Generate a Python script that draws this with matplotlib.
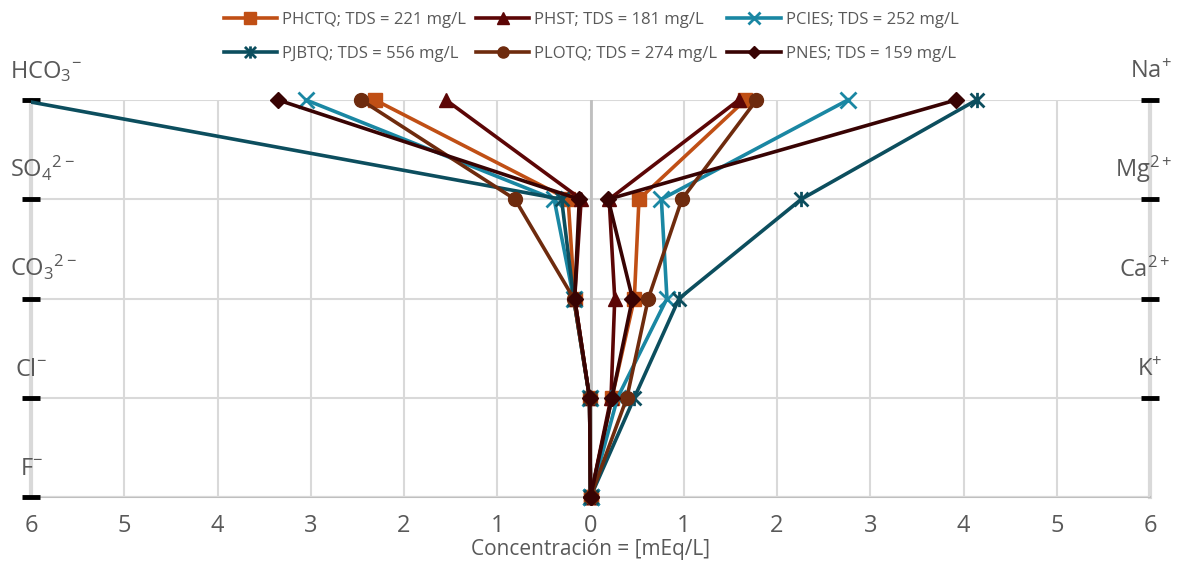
import numpy as np
import matplotlib as mpl
mpl.use('Agg')
import matplotlib.pyplot as plt
from matplotlib.path import Path

plt.rcParams['font.family'] = ['Open Sans', 'DejaVu Sans']
plt.rcParams['mathtext.fontset'] = 'custom'
plt.rcParams['mathtext.rm'] = 'Open Sans'
plt.rcParams['mathtext.it'] = 'Open Sans'
plt.rcParams['mathtext.default'] = 'regular'

# sample names and total dissolved solids
names = ['PHCTQ', 'PHST', 'PCIES', 'PJBTQ', 'PLOTQ', 'PNES']
tds = [221, 181, 252, 556, 274, 159]

# anions (left side), meq/L
hco3 = [2.31, 1.55, 3.05, 6.12, 2.46, 3.35]
so4 = [0.24, 0.10, 0.39, 0.31, 0.81, 0.12]
co3 = [0.17, 0.17, 0.18, 0.18, 0.18, 0.17]
cl = [0.01, 0.01, 0.01, 0.01, 0.01, 0.01]
f = [0.0, 0.0, 0.0, 0.0, 0.0, 0.0]

# cations (right side), meq/L
na = [1.66, 1.59, 2.76, 4.14, 1.78, 3.92]
mg = [0.52, 0.20, 0.76, 2.26, 0.98, 0.19]
ca = [0.47, 0.26, 0.82, 0.95, 0.62, 0.45]
k = [0.23, 0.22, 0.29, 0.47, 0.39, 0.23]
empty = [0.0, 0.0, 0.0, 0.0, 0.0, 0.0]

anion_labels = ['HCO$_3$$^{-}$', 'SO$_4$$^{2-}$', 'CO$_3$$^{2-}$', 'Cl$^{-}$', 'F$^{-}$']
cation_labels = ['Na$^{+}$', 'Mg$^{2+}$', 'Ca$^{2+}$', 'K$^{+}$']
xticks = [-6, -5, -4, -3, -2, -1, 0, 1, 2, 3, 4, 5, 6]

colors = ['#C04F15', '#5C0606', '#1A87A3', '#0C4E5E', '#6E2B0E', '#380303']

# star marker like excel (x with a vertical bar)
star = Path([(-1, -1), (1, 1), (-1, 1), (1, -1), (0, -1.1), (0, 1.1)],
            [Path.MOVETO, Path.LINETO, Path.MOVETO, Path.LINETO, Path.MOVETO, Path.LINETO])
markers = ['s', '^', 'x', star, 'o', 'D']
msizes = [10, 10, 11, 11, 10, 8]

fig = plt.figure(figsize=(11.77, 5.61), dpi=100)
ax = fig.add_axes([31/1177, 64/561, 1119/1177, 397/561])

rows = np.arange(5)
anions = np.array([hco3, so4, co3, cl, f]).T
cations = np.array([na, mg, ca, k, empty]).T

handles = []
for i in range(len(names)):
    kw = dict(color=colors[i], lw=2.6, marker=markers[i], ms=msizes[i],
              mew=2 if i in (2, 3) else 1, zorder=3 + i)
    # values past the axis limit get clipped like in the original
    clip_left = anions[i].max() > 6
    h, = ax.plot(-anions[i], rows, label='%s; TDS = %d mg/L' % (names[i], tds[i]),
                 clip_on=clip_left, **kw)
    ax.plot(cations[i], rows, clip_on=False, **kw)
    handles.append(h)

ax.set_xlim(-6, 6)
ax.set_ylim(4, 0)
ax.set_xticks(xticks)
ax.set_xticklabels([str(abs(t)) for t in xticks])
ax.set_yticks(rows)
ax.set_yticklabels([])
ax.grid(True, color='#D9D9D9', lw=1.5)
ax.set_axisbelow(True)
ax.axvline(0, color='#BFBFBF', lw=2, zorder=1)

ax.tick_params(axis='x', length=0, pad=12, labelsize=17, labelcolor='#595959')
ax.tick_params(axis='y', left=True, right=True, direction='inout', length=13,
               width=3.5, color='black')
ax.yaxis.get_major_ticks()[4].tick2line.set_visible(False)

for side in ['left', 'right']:
    ax.spines[side].set_color('#D9D9D9')
    ax.spines[side].set_linewidth(3)
    ax.spines[side].set_zorder(0.3)
ax.spines['bottom'].set_color('#BFBFBF')
ax.spines['bottom'].set_linewidth(1.5)
ax.spines['bottom'].set_zorder(0.3)
ax.spines['top'].set_visible(False)

# ion labels
left_x = [10, 10, 10, 15, 20]
for r, lab in enumerate(anion_labels):
    ax.annotate(lab, xy=(left_x[r], r), xycoords=('figure pixels', 'data'),
                xytext=(0, 22), textcoords='offset pixels', ha='left', va='baseline',
                fontsize=17, color='#595959')
right_x = [1172, 1172, 1170, 1162]
for r, lab in enumerate(cation_labels):
    ax.annotate(lab, xy=(right_x[r], r), xycoords=('figure pixels', 'data'),
                xytext=(0, 22), textcoords='offset pixels', ha='right', va='baseline',
                fontsize=17, color='#595959')

ax.set_xlabel('Concentración = [mEq/L]', fontsize=15, color='#595959', labelpad=1)

# legend row-wise: reorder for ncol=3
order = [0, 3, 1, 4, 2, 5]
leg = fig.legend([handles[i] for i in order], [handles[i].get_label() for i in order],
                 ncol=3, loc='center', bbox_to_anchor=(591/1177, 1 - 37/561),
                 frameon=False, fontsize=12, handlelength=3.2, handletextpad=0.3,
                 columnspacing=0.6, labelspacing=1.1, labelcolor='#595959',
                 markerscale=0.8)

fig.savefig('out.png', dpi=100)
